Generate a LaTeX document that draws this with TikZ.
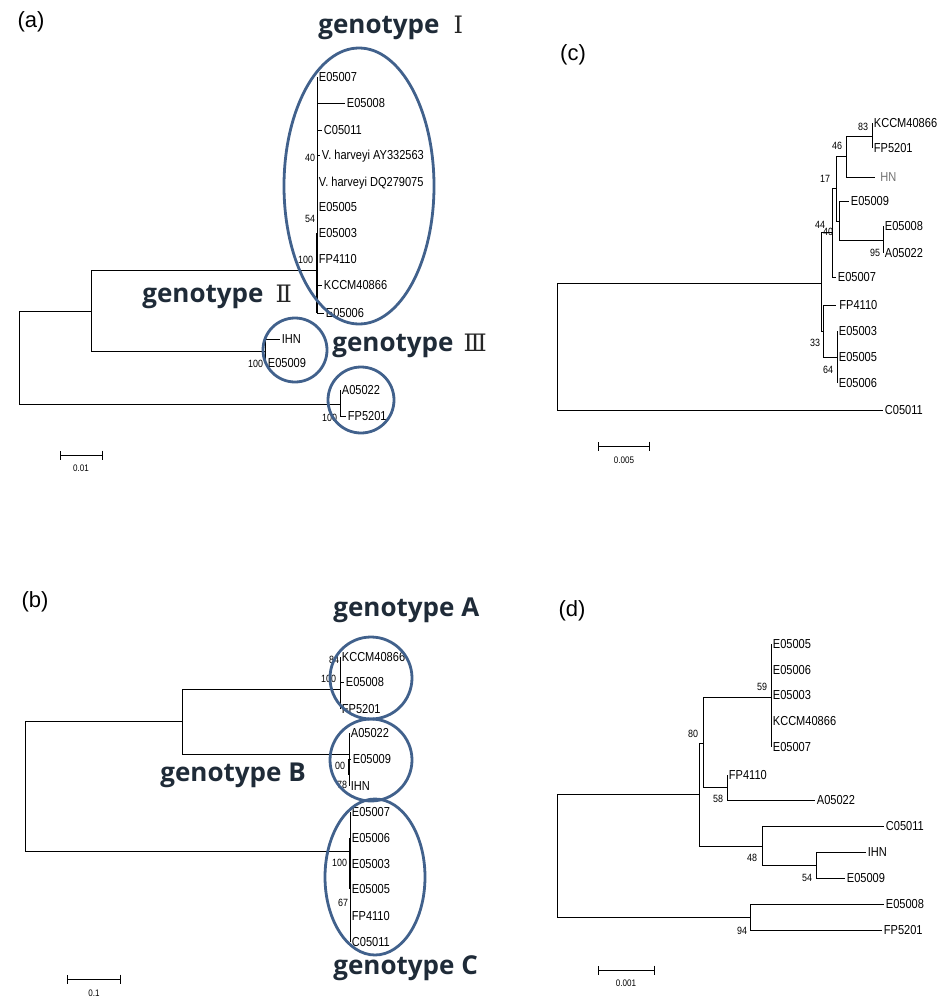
\documentclass[tikz,border=0pt]{standalone}
\usepackage{fontspec}
\setmainfont{Liberation Sans}
\newfontfamily\treefont[FakeStretch=0.85]{Liberation Sans}
\newfontfamily\genofont{Open Sans}
\newfontfamily\romfont{DejaVu Serif}
\usepackage{tikz}
\usetikzlibrary{arrows.meta}
\definecolor{ringblue}{HTML}{41618C}
\definecolor{genoink}{HTML}{1F2B38}
\definecolor{romink}{HTML}{262626}

\begin{document}
\begin{tikzpicture}
	[x=1pt,y=-1pt,line width=0.8pt,
	leaf/.style={anchor=west,inner sep=1.5pt,text height=9.3pt,text depth=0pt,
		font=\treefont\fontsize{13}{13}\selectfont},
	boot/.style={anchor=east,inner sep=0.5pt,font=\treefont\fontsize{10.5}{10.5}\selectfont},
	ring/.style={draw=ringblue,line width=2.8pt},
	geno/.style={anchor=west,inner sep=0pt,text=genoink,
		font=\genofont\bfseries\fontsize{26}{26}\selectfont},
	panel/.style={font=\fontsize{22}{22}\selectfont},
	scalebar/.style={{Bar[width=9pt]}-{Bar[width=9pt]}},
	scalelbl/.style={font=\treefont\fontsize{9.5}{9.5}\selectfont}]
	\useasboundingbox[fill=white] (0,0) rectangle (945,1004);
	\newcommand{\rom}[1]{{\romfont\mdseries\color{romink}\fontsize{24}{24}\selectfont #1}}

	% (a)
	\node[panel] (pa) at (31,22) {(a)};
	\coordinate (ra) at (19,358);
	\coordinate (a91) at (91,311);
	\coordinate (aI) at (317,270);
	\coordinate (aII) at (265,351);
	\coordinate (aIII) at (340,404);
	\node[leaf] (a1) at (317,77) {E05007};
	\node[leaf] (a2) at (345,103) {E05008};
	\node[leaf] (a3) at (322,130) {C05011};
	\node[leaf] (a4) at (320,155) {V. harveyi AY332563};
	\node[leaf] (a5) at (317,182) {V. harveyi DQ279075};
	\node[leaf] (a6) at (317,207) {E05005};
	\node[leaf] (a7) at (317,233) {E05003};
	\node[leaf] (a8) at (317,259) {FP4110};
	\node[leaf] (a9) at (322,285) {KCCM40866};
	\node[leaf] (a10) at (324,313) {E05006};
	\node[leaf] (aH) at (280,339) {IHN};
	\node[leaf] (aE) at (266,363) {E05009};
	\node[leaf] (aA) at (340,390) {A05022};
	\node[leaf] (aF) at (346,416) {FP5201};
	\draw (ra) |- (a91);
	\draw (ra) |- (aIII);
	\draw (a91) |- (aI);
	\draw (a91) |- (aII);
	\foreach \i in {1,...,10} \draw (aI) |- (a\i.west);
	\draw[line width=1.6pt] (aI |- a7.west) -- (aI |- a10.west);
	\draw (aII) |- (aH.west);
	\draw (aII) |- (aE.west);
	\draw (aIII) |- (aA.west);
	\draw (aIII) |- (aF.west);
	\node[boot] (ab1) at (316,158) {40};
	\node[boot] (ab2) at (316,219) {54};
	\node[boot] (ab3) at (314,260) {100};
	\node[boot] (ab4) at (264,364) {100};
	\node[boot] (ab5) at (338,418) {100};
	\draw[ring] (359,186) ellipse [x radius=75,y radius=138];
	\draw[ring] (295,350) circle [radius=32];
	\draw[ring] (361,400) circle [radius=33];
	\node[geno] (gI) at (318,28) {genotype\hspace{14pt}\rom{Ⅰ}};
	\node[geno] (gII) at (142,297) {genotype\hspace{12pt}\rom{Ⅱ}};
	\node[geno] (gIII) at (332,346) {genotype\hspace{10pt}\rom{Ⅲ}};
	\coordinate (sa1) at (60,455);
	\coordinate (sa2) at (103,455);
	\draw[scalebar] (sa1) -- (sa2);
	\node[scalelbl] (sa) at (81,468) {0.01};

	% (b)
	\node[panel] (pb) at (35,602) {(b)};
	\coordinate (rb) at (25,786);
	\coordinate (b182) at (182,721);
	\coordinate (bA) at (340,689);
	\coordinate (bB) at (349,754);
	\coordinate (bC) at (350,851);
	\node[leaf] (bA1) at (340,657) {KCCM40866};
	\node[leaf] (bA2) at (344,682) {E05008};
	\node[leaf] (bA3) at (340,709) {FP5201};
	\node[leaf] (bB1) at (349,733) {A05022};
	\node[leaf] (bB2) at (351,759) {E05009};
	\node[leaf] (bB3) at (349,786) {IHN};
	\node[leaf] (bC1) at (350,812) {E05007};
	\node[leaf] (bC2) at (350,838) {E05006};
	\node[leaf] (bC3) at (350,864) {E05003};
	\node[leaf] (bC4) at (350,889) {E05005};
	\node[leaf] (bC5) at (350,916) {FP4110};
	\node[leaf] (bC6) at (350,942) {C05011};
	\draw (rb) |- (b182);
	\draw (rb) |- (bC);
	\draw (b182) |- (bA);
	\draw (b182) |- (bB);
	\foreach \i in {1,2,3} \draw (bA) |- (bA\i.west);
	\foreach \i in {1,2,3} \draw (bB) |- (bB\i.west);
	\foreach \i in {1,...,6} \draw (bC) |- (bC\i.west);
	\draw[line width=1.6pt] (bB |- bB2.west) -- +(0,16);
	\draw[line width=1.6pt] (bC |- bC2.west) -- (bC |- bC4.west);
	\node[boot] (bb1) at (340,660) {84};
	\node[boot] (bb2) at (337,679) {100};
	\node[boot] (bb3) at (346,766) {00};
	\node[boot] (bb4) at (348,785) {78};
	\node[boot] (bb5) at (348,863) {100};
	\node[boot] (bb6) at (349,903) {67};
	\draw[ring] (371,678) circle [radius=41];
	\draw[ring] (371,760) circle [radius=41];
	\draw[ring] (375,877) ellipse [x radius=50,y radius=78];
	\node[geno] (gA) at (333,610) {genotype A};
	\node[geno] (gB) at (160,775) {genotype B};
	\node[geno] (gC) at (333,968) {genotype C};
	\coordinate (sb1) at (67,979);
	\coordinate (sb2) at (121,979);
	\draw[scalebar] (sb1) -- (sb2);
	\node[scalelbl] (sb) at (94,993) {0.1};

	% (c)
	\node[panel] (pc) at (573,55) {(c)};
	\coordinate (rc) at (557,346);
	\coordinate (cR) at (821,283);
	\coordinate (c40) at (832,232);
	\coordinate (c17) at (836,188);
	\coordinate (c46) at (846,156);
	\coordinate (c83) at (872,136);
	\coordinate (cE) at (839,221);
	\coordinate (c95) at (883,240);
	\coordinate (c33) at (823,331);
	\coordinate (c64) at (837,357);
	\node[leaf] (cK) at (872,123) {KCCM40866};
	\node[leaf] (cF) at (872,148) {FP5201};
	\node[leaf,inner xsep=5pt,text=black!55] (cH) at (875,177) {HN};
	\node[leaf] (cE9) at (849,201) {E05009};
	\node[leaf] (cE8) at (883,226) {E05008};
	\node[leaf] (cA) at (883,253) {A05022};
	\node[leaf] (cE7) at (836,277) {E05007};
	\node[leaf,inner xsep=3pt] (cFP) at (836,305) {FP4110};
	\node[leaf] (c1) at (837,331) {E05003};
	\node[leaf] (c2) at (837,357) {E05005};
	\node[leaf] (c3) at (837,383) {E05006};
	\node[leaf] (cC) at (883,410) {C05011};
	\draw (rc) |- (cR);
	\draw (rc) |- (cC.west);
	\draw (cR) |- (c40);
	\draw (cR) |- (c33);
	\draw (c40) |- (c17);
	\draw (c40) |- (cE7.west);
	\draw (c17) |- (c46);
	\draw (c17) |- (cE);
	\draw (c46) |- (c83);
	\draw (c46) |- (cH.west);
	\draw (c83) |- (cK.west);
	\draw (c83) |- (cF.west);
	\draw (cE) |- (cE9.west);
	\draw (cE) |- (c95);
	\draw (c95) |- (cE8.west);
	\draw (c95) |- (cA.west);
	\draw (c33) |- (cFP.west);
	\draw (c33) |- (c64);
	\foreach \i in {1,2,3} \draw (c64) |- (c\i.west);
	\node[boot] (cb1) at (869,127) {83};
	\node[boot] (cb2) at (843,146) {46};
	\node[boot] (cb3) at (831,179) {17};
	\node[boot] (cb4) at (826,225) {44};
	\node[boot] (cb5) at (834,232) {40};
	\node[boot] (cb6) at (881,253) {95};
	\node[boot] (cb7) at (821,343) {33};
	\node[boot] (cb8) at (834,370) {64};
	\coordinate (sc1) at (598,446);
	\coordinate (sc2) at (650,446);
	\draw[scalebar] (sc1) -- (sc2);
	\node[scalelbl] (sc) at (624,460) {0.005};

	% (d)
	\node[panel] (pd) at (572,611) {(d)};
	\coordinate (rd) at (557,855);
	\coordinate (d80) at (699,794);
	\coordinate (d703) at (703,743);
	\coordinate (d59) at (771,697);
	\coordinate (d58) at (727,787);
	\coordinate (d48) at (762,846);
	\coordinate (d54) at (816,865);
	\coordinate (d94) at (750,917);
	\node[leaf] (d1) at (771,644) {E05005};
	\node[leaf] (d2) at (771,670) {E05006};
	\node[leaf] (d3) at (771,695) {E05003};
	\node[leaf] (d4) at (771,721) {KCCM40866};
	\node[leaf] (d5) at (771,747) {E05007};
	\node[leaf] (dFP) at (727,775) {FP4110};
	\node[leaf] (dA) at (815,800) {A05022};
	\node[leaf] (dC) at (884,826) {C05011};
	\node[leaf] (dH) at (866,852) {IHN};
	\node[leaf] (dE9) at (845,878) {E05009};
	\node[leaf] (dE8) at (884,904) {E05008};
	\node[leaf] (dF) at (882,930) {FP5201};
	\draw (rd) |- (d80);
	\draw (rd) |- (d94);
	\draw (d80) |- (d703);
	\draw (d80) |- (d48);
	\draw (d703) |- (d59);
	\draw (d703) |- (d58);
	\foreach \i in {1,...,5} \draw (d59) |- (d\i.west);
	\draw (d58) |- (dFP.west);
	\draw (d58) |- (dA.west);
	\draw (d48) |- (dC.west);
	\draw (d48) |- (d54);
	\draw (d54) |- (dH.west);
	\draw (d54) |- (dE9.west);
	\draw (d94) |- (dE8.west);
	\draw (d94) |- (dF.west);
	\node[boot] (db1) at (699,734) {80};
	\node[boot] (db2) at (768,687) {59};
	\node[boot] (db3) at (724,799) {58};
	\node[boot] (db4) at (758,858) {48};
	\node[boot] (db5) at (813,878) {54};
	\node[boot] (db6) at (748,931) {94};
	\coordinate (sd1) at (598,970);
	\coordinate (sd2) at (655,970);
	\draw[scalebar] (sd1) -- (sd2);
	\node[scalelbl] (sd) at (626,983) {0.001};
\end{tikzpicture}
\end{document}
